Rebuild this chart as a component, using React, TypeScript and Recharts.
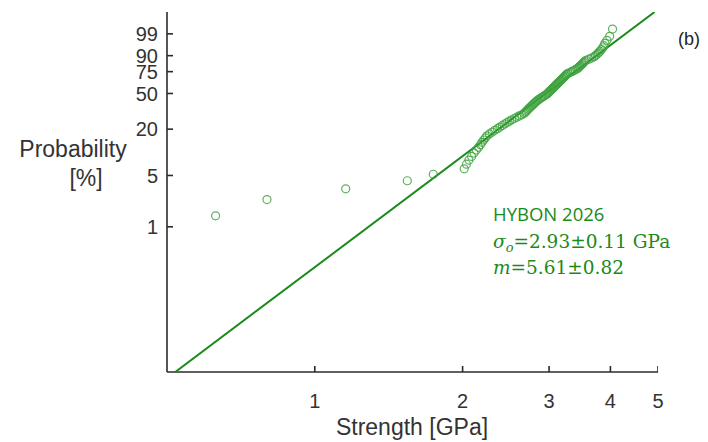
import { Customized, Scatter, ScatterChart, XAxis, YAxis } from "recharts";

// sorted fibre strengths, GPa (the lowest one falls left of the axis range)
const strengths = [
  0.45, 0.628, 0.799, 1.156, 1.543, 1.743,
  2.015, 2.036, 2.06, 2.086, 2.11, 2.133, 2.156, 2.174, 2.191, 2.208,
  2.225, 2.242, 2.268, 2.298, 2.326, 2.355, 2.382, 2.409, 2.436, 2.463,
  2.49, 2.518, 2.549, 2.579, 2.609, 2.64, 2.667, 2.681, 2.695, 2.708,
  2.722, 2.735, 2.749, 2.763, 2.776, 2.79, 2.803, 2.817, 2.831, 2.846,
  2.864, 2.882, 2.9, 2.918, 2.936, 2.954, 2.973, 2.985, 2.997, 3.009,
  3.02, 3.032, 3.044, 3.056, 3.068, 3.08, 3.091, 3.103, 3.115, 3.127,
  3.139, 3.151, 3.163, 3.176, 3.188, 3.2, 3.212, 3.224, 3.236, 3.248,
  3.26, 3.281, 3.308, 3.335, 3.362, 3.389, 3.416, 3.434, 3.45, 3.466,
  3.482, 3.497, 3.513, 3.529, 3.545, 3.568, 3.615, 3.663, 3.705, 3.731,
  3.757, 3.783, 3.809, 3.835, 3.858, 3.878, 3.898, 3.936, 3.986, 4.04,
];

const strengthTicks = [1, 2, 3, 4, 5];
const probTicks = [1, 5, 20, 50, 75, 90, 99];
const strengthRange = [0.5, 5];
const probRange = [0.01, 99.99];

// drawn fit line (Weibull scale / shape)
const fitScale = 3.18;
const fitShape = 5.085;

const GREEN = "#1a8a1a";
const AXIS = "#2b2b2b";
const FONT = "Liberation Sans, Arial";

// weibull probability paper
const weib = (pct: number) => Math.log(-Math.log(1 - pct / 100));
const unweib = (w: number) => (1 - Math.exp(-Math.exp(w))) * 100;

const n = strengths.length;
const points = strengths
  .map((s, i) => ({ s, w: weib(((i + 0.5) / n) * 100) }))
  .filter((d) => d.s >= strengthRange[0]);

const wMin = weib(probRange[0]);
const wMax = weib(probRange[1]);
const fitLine = [wMin, wMax].map((w) => ({ s: fitScale * Math.exp(w / fitShape), w }));

// inward tick marks, placed on the axes through the chart scales
const xTickMarks = strengthTicks.map((s) => ({ s, w: wMin }));
const yTickMarks = probTicks.map((p) => ({ s: strengthRange[0], w: weib(p) }));

const TICK_LEN = 6;

const XTickMark = (props: any) => (
  <line x1={props.cx} y1={props.cy} x2={props.cx} y2={props.cy - TICK_LEN} stroke={AXIS} strokeWidth={1.6} />
);
const YTickMark = (props: any) => (
  <line x1={props.cx} y1={props.cy} x2={props.cx + TICK_LEN} y2={props.cy} stroke={AXIS} strokeWidth={1.6} />
);

const XTick = (props: any) => (
  <text x={props.x} y={props.y} dy="0.71em" textAnchor="middle" fontSize={20} fill="#333" fontFamily={FONT}>
    {props.payload.value}
  </text>
);

const YTick = (props: any) => (
  <text x={props.x} y={props.y} dy="0.355em" textAnchor="end" fontSize={20} fill="#333" fontFamily={FONT}>
    {Math.round(unweib(props.payload.value))}
  </text>
);

const Marker = (props: any) => (
  <circle cx={props.cx} cy={props.cy} r={4} fill="none" stroke="#3fa33f" strokeOpacity={0.85} strokeWidth={1.2} />
);

const Notes = () => (
  <g>
    <text x={689} y={45} textAnchor="middle" fontSize={18} fill="#222" fontFamily={FONT}>
      (b)
    </text>
    <text x={493} y={221} fontSize={18.5} fill={GREEN} fontFamily="Open Sans">
      HYBON 2026
    </text>
    <text x={493} y={248} fontSize={18.5} fill={GREEN} fontFamily="DejaVu Serif">
      <tspan fontStyle="italic">σ</tspan>
      <tspan fontStyle="italic" fontSize={13} dy={4}>o</tspan>
      <tspan dy={-4}>=2.93±0.11 GPa</tspan>
    </text>
    <text x={493} y={274} fontSize={18.5} fill={GREEN} fontFamily="DejaVu Serif">
      <tspan fontStyle="italic">m</tspan>
      <tspan>=5.61±0.82</tspan>
    </text>
  </g>
);

export default function App() {
  return (
    <div style={{ position: "absolute", left: 0, top: 0, width: 708, height: 442, background: "#fff" }}>
      <ScatterChart width={708} height={442} margin={{ top: 12, right: 50, bottom: 0, left: 0 }}>
        <XAxis
          type="number"
          dataKey="s"
          scale="log"
          domain={strengthRange}
          ticks={strengthTicks}
          interval={0}
          allowDataOverflow
          height={70}
          stroke={AXIS}
          strokeWidth={1.6}
          tickLine={false}
          tickSize={0}
          tickMargin={22}
          tick={XTick}
          label={{
            content: () => (
              <text x={412} y={435} textAnchor="middle" fontSize={23} fill="#333" fontFamily={FONT}>
                Strength [GPa]
              </text>
            ),
          }}
        />
        <YAxis
          type="number"
          dataKey="w"
          domain={[wMin, wMax]}
          ticks={probTicks.map(weib)}
          interval={0}
          allowDataOverflow
          width={167}
          stroke={AXIS}
          strokeWidth={1.6}
          tickLine={false}
          tickSize={0}
          tickMargin={9}
          tick={YTick}
          label={{
            content: () => (
              <g fontSize={23} fill="#333" fontFamily={FONT}>
                <text x={73} y={157} textAnchor="middle">Probability</text>
                <text x={86} y={186} textAnchor="middle">[%]</text>
              </g>
            ),
          }}
        />
        <Scatter data={xTickMarks} shape={XTickMark} isAnimationActive={false} />
        <Scatter data={yTickMarks} shape={YTickMark} isAnimationActive={false} />
        <Scatter data={fitLine} line={{ stroke: GREEN, strokeWidth: 2 }} shape={() => <g />} isAnimationActive={false} />
        <Scatter data={points} shape={Marker} isAnimationActive={false} />
        <Customized component={Notes} />
      </ScatterChart>
    </div>
  );
}
